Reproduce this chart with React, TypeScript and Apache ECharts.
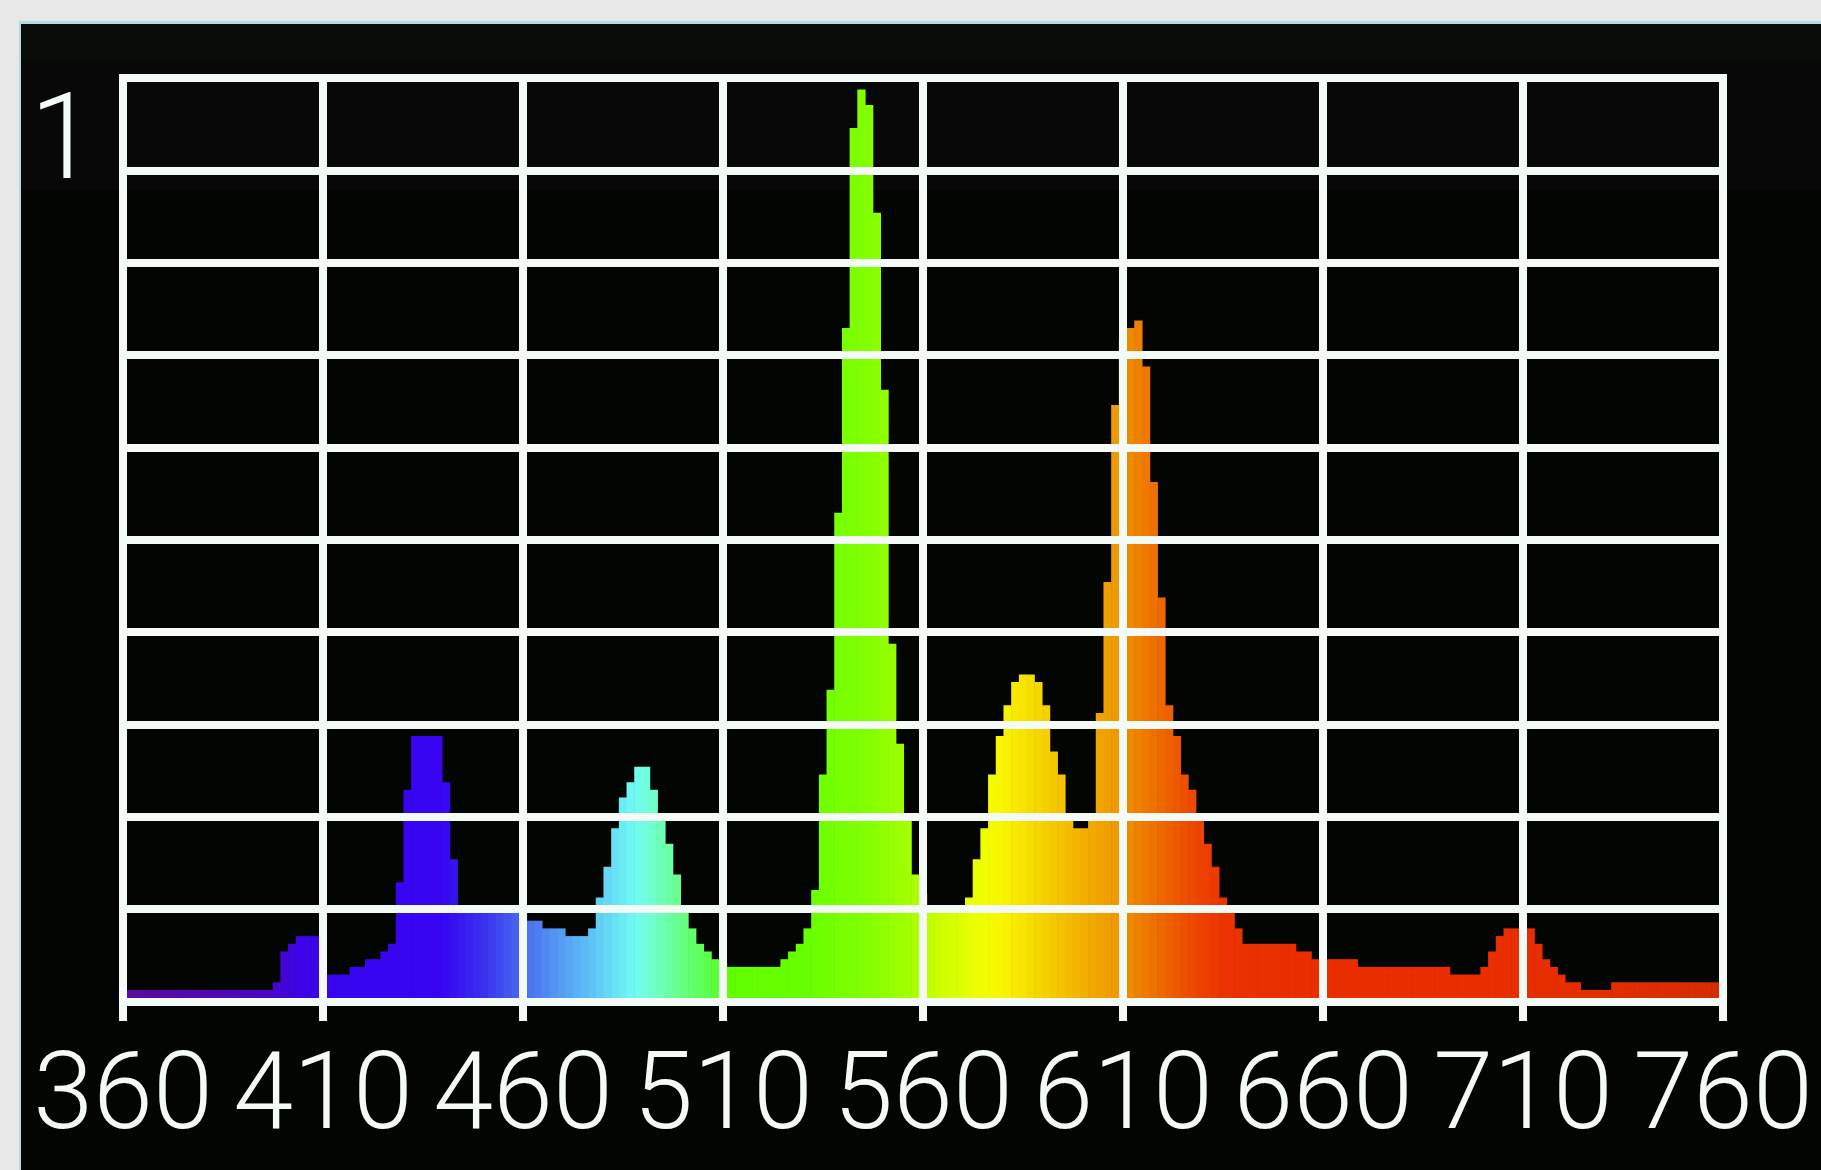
import React, { useEffect, useRef } from 'react';
import * as echarts from 'echarts';

// x axis: 8 divisions of 50 nm, each split into 26 detector bins (209 bin points incl. both ends)
const TICK_LABELS = ['360', '410', '460', '510', '560', '610', '660', '710', '760'];
const START_NM = 360;
const DIVISION_NM = 50;
const BINS_PER_DIVISION = 26;
const SCALE_LABEL = '1';

// bar heights in grid pixel units (10 divisions of 12 units = 120 full scale)
const INTENSITY_360_410 = [1.5, 1.5, 1.5, 1.5, 1.5, 1.5, 1.5, 1.5, 1.5, 1.5, 1.5, 1.5, 1.5, 1.5, 1.5, 1.5, 1.5, 1.5, 1.5, 1.5, 2.5, 6.5, 7.5, 8.5, 8.5, 8.5];
const INTENSITY_410_460 = [5, 3.5, 3.5, 3.5, 4.5, 4.5, 5.5, 5.5, 6.5, 7.5, 15.5, 27.5, 34.5, 34.5, 34.5, 34.5, 28.5, 18.5, 12, 12, 12, 12, 12, 12, 12, 12];
const INTENSITY_460_510 = [12, 10.5, 10.5, 9.5, 9.5, 9.5, 8.5, 8.5, 8.5, 9.5, 13.5, 17.5, 22.5, 26.5, 28.5, 30.5, 30.5, 27.5, 24, 20.5, 16.5, 12, 9.5, 7.5, 6.5, 5.5];
const INTENSITY_510_560 = [5, 4.5, 4.5, 4.5, 4.5, 4.5, 4.5, 4.5, 5.5, 6.5, 7.5, 9.5, 14.5, 29.5, 40.5, 63.5, 87.5, 113.5, 118.5, 116.5, 102.5, 79.5, 46.5, 33.5, 24, 16.5];
const INTENSITY_560_610 = [14, 12, 12, 12, 12, 12, 13.5, 18.5, 22.5, 29.5, 34.5, 38.5, 41.5, 42.5, 42.5, 41.5, 38.5, 32.5, 29.5, 24, 22.5, 22.5, 24, 37.5, 54.5, 77.5];
const INTENSITY_610_660 = [86, 87.5, 88.5, 82.5, 67.5, 52.5, 38.5, 34.5, 29.5, 27.5, 24, 20.5, 17.5, 13.5, 12, 9.5, 7.5, 7.5, 7.5, 7.5, 7.5, 7.5, 7.5, 6.5, 6.5, 5.5];
const INTENSITY_660_710 = [5.5, 5.5, 5.5, 5.5, 5.5, 4.5, 4.5, 4.5, 4.5, 4.5, 4.5, 4.5, 4.5, 4.5, 4.5, 4.5, 4.5, 3.5, 3.5, 3.5, 3.5, 4.5, 6.5, 8.5, 9.5, 9.5];
const INTENSITY_710_760 = [9.5, 9.5, 7.5, 5.5, 4.5, 3.5, 2.5, 2.5, 1.5, 1.5, 1.5, 1.5, 2.5, 2.5, 2.5, 2.5, 2.5, 2.5, 2.5, 2.5, 2.5, 2.5, 2.5, 2.5, 2.5, 2.5];
const INTENSITY_760 = [2.5];

const INTENSITY = [
  ...INTENSITY_360_410, ...INTENSITY_410_460, ...INTENSITY_460_510, ...INTENSITY_510_560,
  ...INTENSITY_560_610, ...INTENSITY_610_660, ...INTENSITY_660_710, ...INTENSITY_710_760, ...INTENSITY_760,
];

// spectral colour stops (nm, colour)
const COLOR_STOPS: [number, string][] = [
  [360, '#5c0a9c'], [395, '#4a06c4'], [405, '#3c05e6'], [412, '#3705f0'], [440, '#3705f2'],
  [450, '#3a30f0'], [458, '#4660f0'], [465, '#4f85f2'], [475, '#5ab8f5'], [482, '#66dcf5'],
  [488, '#70fbf5'], [493, '#70ffc8'], [500, '#66ff80'], [507, '#5aff45'], [512, '#62ff00'],
  [530, '#66ff00'], [545, '#80ff00'], [556, '#a0ff00'], [565, '#cfff00'], [575, '#f0ff00'],
  [580, '#f8f500'], [590, '#f5d200'], [600, '#f2b000'], [608, '#f09a00'], [615, '#ef7c00'],
  [625, '#ed5000'], [635, '#eb3300'], [650, '#ea2e00'], [700, '#ea2e00'], [730, '#e42e00'], [760, '#d42e00'],
];

function hexToRgb(h: string): number[] {
  const n = parseInt(h.slice(1), 16);
  return [(n >> 16) & 255, (n >> 8) & 255, n & 255];
}

function colorAt(nm: number): string {
  if (nm <= COLOR_STOPS[0][0]) return COLOR_STOPS[0][1];
  for (let i = 1; i < COLOR_STOPS.length; i++) {
    const [n1, c1] = COLOR_STOPS[i];
    const [n0, c0] = COLOR_STOPS[i - 1];
    if (nm <= n1) {
      const t = (nm - n0) / (n1 - n0);
      const a = hexToRgb(c0);
      const b = hexToRgb(c1);
      const m = a.map((v, k) => Math.round(v + (b[k] - v) * t));
      return `rgb(${m[0]},${m[1]},${m[2]})`;
    }
  }
  return COLOR_STOPS[COLOR_STOPS.length - 1][1];
}

const WHITE = '#f4faf6';
const FONT = "Roboto, 'Liberation Sans', sans-serif";

export default function App() {
  const ref = useRef<HTMLDivElement>(null);
  useEffect(() => {
    const chart = echarts.init(ref.current as HTMLDivElement, null, { renderer: 'svg' });
    const nmOf = (i: number) => START_NM + (i * DIVISION_NM) / BINS_PER_DIVISION;
    const categories = INTENSITY.map((_, i) => nmOf(i).toFixed(2));
    const data = INTENSITY.map((v, i) => ({ value: v, itemStyle: { color: colorAt(nmOf(i)) } }));
    chart.setOption({
      animation: false,
      backgroundColor: '#e8e8e8',
      graphic: [
        { type: 'rect', z: -10, silent: true, shape: { x: 19, y: 21, width: 1802, height: 1149 }, style: { fill: '#b5dbe2' } },
        { type: 'rect', z: -9, silent: true, shape: { x: 21, y: 24, width: 1800, height: 1146 }, style: { fill: '#030503' } },
        { type: 'rect', z: -8, silent: true, shape: { x: 21, y: 24, width: 1800, height: 35 }, style: { fill: '#080d07' } },
        { type: 'rect', z: -8, silent: true, shape: { x: 21, y: 59, width: 1800, height: 131 }, style: { fill: '#080808' } },
        {
          type: 'text', z: 10, silent: true, x: 63, y: 137,
          style: { text: SCALE_LABEL, fill: WHITE, fontSize: 120, fontWeight: 300, fontFamily: FONT, textAlign: 'center', textVerticalAlign: 'middle' },
        },
      ],
      grid: { left: 123, right: 98, top: 78, bottom: 168.5 },
      xAxis: {
        type: 'category',
        data: categories,
        boundaryGap: false,
        z: 5,
        axisLine: { show: false },
        axisTick: { show: true, interval: BINS_PER_DIVISION - 1, length: 19.5, lineStyle: { color: WHITE, width: 8 } },
        axisLabel: {
          interval: BINS_PER_DIVISION - 1,
          showMinLabel: true,
          showMaxLabel: true,
          formatter: (_v: string, idx: number) => TICK_LABELS[idx / BINS_PER_DIVISION] ?? '',
          color: WHITE,
          fontFamily: FONT,
          fontWeight: 300,
          fontSize: 108,
          margin: 35,
        },
        splitLine: { show: true, interval: BINS_PER_DIVISION - 1, lineStyle: { color: WHITE, width: 8, cap: 'square' } },
      },
      yAxis: {
        type: 'value',
        min: 0,
        max: 120,
        interval: 12,
        z: 5,
        axisLine: { show: false },
        axisTick: { show: false },
        axisLabel: { show: false },
        splitLine: { show: true, lineStyle: { color: WHITE, width: 8, cap: 'square' } },
      },
      series: [
        { type: 'bar', data, barWidth: 8.3, silent: true },
      ],
    });
    return () => chart.dispose();
  }, []);
  return <div ref={ref} style={{ position: 'fixed', left: 0, top: 0, width: 1821, height: 1170 }} />;
}
